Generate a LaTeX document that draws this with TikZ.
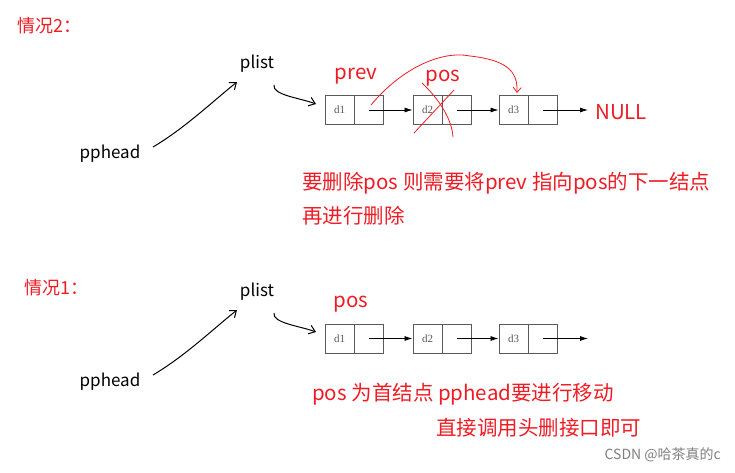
\documentclass[tikz,border=0pt]{standalone}
\usepackage{fontspec}
\setmainfont{Noto Sans CJK SC}
\newfontfamily\dfont{Liberation Serif}
\usetikzlibrary{arrows.meta}
\definecolor{myred}{RGB}{238,28,36}
\definecolor{boxgray}{RGB}{90,90,90}
\begin{document}
\begin{tikzpicture}[x=1pt,y=-1pt,
  cell/.style={draw=boxgray,line width=0.9pt,minimum width=29pt,minimum height=29pt,inner sep=0pt,
    font=\fontsize{11}{12}\selectfont\dfont\color{boxgray}},
  lbl/.style={inner sep=0pt,font=\fontsize{17}{20}\selectfont},
  redlbl/.style={inner sep=0pt,text=myred,font=\fontsize{20.5}{24}\selectfont},
  link/.style={-{Latex[length=8pt,width=5pt]},line width=0.8pt},
  hand/.style={-{Straight Barb[length=6pt,width=9pt]},line width=1pt},
]
\useasboundingbox (0,0) rectangle (735,473);
\fill[white] (0,0) rectangle (735,473);

% ---------- Case 2 ----------
\node[redlbl,anchor=west,font=\fontsize{18}{22}\selectfont] (t2) at (17,26) {情况2：};
\node[lbl] (pl2) at (257,64) {plist};
\node[lbl] (ph2) at (110,154) {pphead};

\node[cell] (a1) at (339.5,110) {d1};
\node[cell] (a1p) at (368.5,110) {};
\node[cell] (a2) at (427.5,110) {d2};
\node[cell] (a2p) at (456.5,110) {};
\node[cell] (a3) at (513.5,110) {d3};
\node[cell] (a3p) at (542.5,110) {};
\node[redlbl,anchor=west] (null) at (595,112) {NULL};
\coordinate (aend) at (588,110);
\node[redlbl] (prev) at (356,76) {prev};
\node[redlbl] (pos2) at (443,78) {pos};

\draw[link] (a1p.center) -- (a2.west);
\draw[link] (a2p.center) -- (a3.west);
\draw[link] (a3p.center) -- (aend);

\coordinate (h2s) at (153,147);
\coordinate (h2e) at (237,82);
\draw[hand] (h2s) .. controls (185,128) and (212,102) .. (h2e);
\coordinate (p2s) at (274,85);
\coordinate (p2e) at (316,104);
\draw[hand] (p2s) .. controls (272,95) and (300,98) .. (p2e);

% red curved arrow and cross
\coordinate (r1) at (371,105);
\coordinate (r2) at (517,93);
\draw[myred,line width=0.8pt,-{Straight Barb[length=5pt,width=8pt]}] (r1) .. controls (400,70) and (440,50) .. (470,56) .. controls (505,60) and (518,70) .. (r2);
\draw[myred,line width=0.8pt] (414,133) -- (454,90);
\draw[myred,line width=0.8pt] (422,83) .. controls (440,100) and (452,120) .. (453,137);

\node[redlbl,anchor=west] (txt1) at (302,183) {要删除pos 则需要将prev 指向pos的下一结点};
\node[redlbl,anchor=west] (txt2) at (302,216) {再进行删除};

% ---------- Case 1 ----------
\node[redlbl,anchor=west,font=\fontsize{18}{22}\selectfont] (t1) at (24,288) {情况1：};
\node[lbl] (pl1) at (257,292) {plist};
\node[lbl] (ph1) at (110,382) {pphead};

\node[cell] (b1) at (339.5,338.5) {d1};
\node[cell] (b1p) at (368.5,338.5) {};
\node[cell] (b2) at (427.5,338.5) {d2};
\node[cell] (b2p) at (456.5,338.5) {};
\node[cell] (b3) at (513.5,338.5) {d3};
\node[cell] (b3p) at (542.5,338.5) {};
\coordinate (bend) at (588,338.5);
\node[redlbl] (pos1) at (351,304) {pos};

\draw[link] (b1p.center) -- (b2.west);
\draw[link] (b2p.center) -- (b3.west);
\draw[link] (b3p.center) -- (bend);

\coordinate (h1s) at (153,375);
\coordinate (h1e) at (237,310);
\draw[hand] (h1s) .. controls (185,356) and (212,330) .. (h1e);
\coordinate (p1s) at (274,313);
\coordinate (p1e) at (316,332);
\draw[hand] (p1s) .. controls (272,323) and (300,326) .. (p1e);

\node[redlbl,anchor=west] (txt3) at (312,394) {pos 为首结点 pphead要进行移动};
\node[redlbl,anchor=west] (txt4) at (436,428) {直接调用头删接口即可};

\node[anchor=east,inner sep=0pt,text=gray,font=\fontsize{14}{16}\selectfont] (wm) at (721,455) {CSDN @哈茶真的c};
\end{tikzpicture}
\end{document}
